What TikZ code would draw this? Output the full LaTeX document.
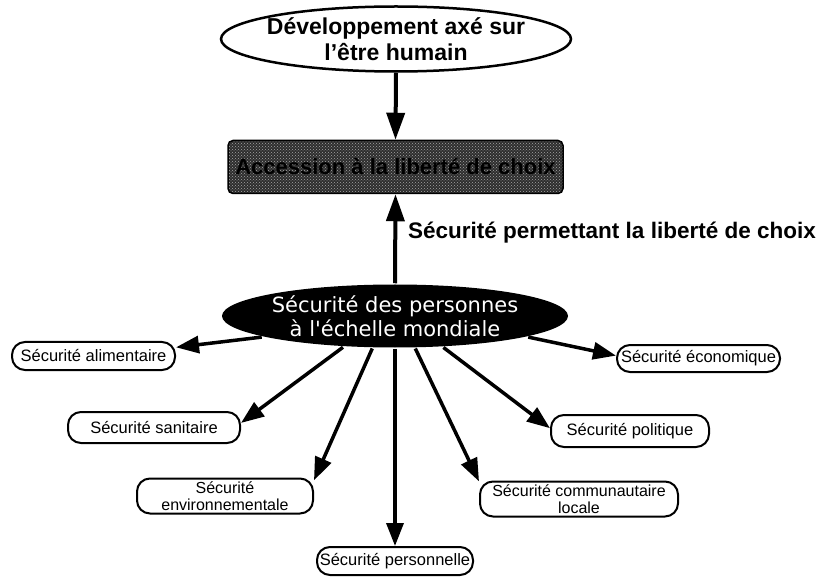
\documentclass[tikz,border=0pt]{standalone}
\usepackage{fontspec}
\setmainfont{Liberation Sans}
\newfontfamily\dejavu{DejaVu Sans}
\usetikzlibrary{shapes.geometric,arrows.meta,patterns}
\begin{document}
\begin{tikzpicture}[x=1pt,y=-1pt,
  arr/.style={line width=3.5pt,-{Triangle[length=23pt,width=17pt]}},
  bigarr/.style={line width=4pt,-{Triangle[length=27pt,width=18pt]}},
  smallbox/.style={draw,line width=2pt,rounded corners=13pt,inner sep=1pt,align=center,
    font=\fontsize{16.5}{18}\selectfont},
  twoline/.style={font=\fontsize{16}{17.6}\selectfont,inner sep=0pt},
  ovalbox/.style={ellipse,line width=2.5pt,inner sep=0pt},
]
\useasboundingbox (0,0) rectangle (822,577);
% top ellipse
\node[ovalbox,draw,fill=white,minimum width=350pt,minimum height=65pt] (top) at (396,39) {};
\node[align=center,font=\bfseries\fontsize{23}{25.5}\selectfont,inner sep=0pt] (toptext) at (top.center) {Développement axé sur\\l'être humain};
% gray box
\node[draw,line width=1.5pt,rounded corners=5pt,minimum width=335pt,minimum height=53pt,
  preaction={fill=black!82},pattern=crosshatch dots,pattern color=black!35] (box) at (395.5,167) {};
\node[font=\bfseries\fontsize{22}{22}\selectfont,text=black,inner sep=0pt] (boxtext) at (box.center) {Accession à la liberté de choix};
% central ellipse
\node[ovalbox,fill=black,minimum width=346pt,minimum height=63pt] (c) at (395,316) {};
\node[align=center,text=white,font=\dejavu\fontsize{21}{24}\selectfont,inner sep=0pt] (ctext) at (c.center) {Sécurité des personnes\\à l'échelle mondiale};
% label
\node[anchor=west,font=\bfseries\fontsize{22.5}{22.5}\selectfont,inner sep=0pt] (lab) at (408,233) {Sécurité permettant la liberté de choix};
% small boxes
\node[smallbox,minimum width=163pt,minimum height=28pt] (ali) at (93.5,356) {Sécurité alimentaire};
\node[smallbox,minimum width=172pt,minimum height=31pt] (san) at (154,427.5) {Sécurité sanitaire};
\node[smallbox,twoline,minimum width=176pt,minimum height=35pt] (env) at (225,496) {Sécurité\\environnementale};
\node[smallbox,minimum width=156pt,minimum height=28pt] (pers) at (395,561) {Sécurité personnelle};
\node[smallbox,twoline,minimum width=198pt,minimum height=35pt] (comm) at (579,499) {Sécurité communautaire\\locale};
\node[smallbox,minimum width=158pt,minimum height=32pt] (pol) at (630,431) {Sécurité politique};
\node[smallbox,minimum width=163pt,minimum height=27pt] (eco) at (698.5,358.5) {Sécurité économique};
% connectors
\draw[bigarr] (top.south) -- (box.north);
\draw[bigarr] (c.north) -- (box.south);
\draw[arr] (c.189) -- (ali.6);
\draw[arr] (c.211) -- (san.3);
\draw[arr] (c.235) -- (env.10.7);
\draw[arr] (c.south) -- (pers.north);
\draw[arr] (c.302) -- (comm.170);
\draw[arr] (c.327) -- (pol.178);
\draw[arr] (c.351.6) -- (eco.178);
\end{tikzpicture}
\end{document}
